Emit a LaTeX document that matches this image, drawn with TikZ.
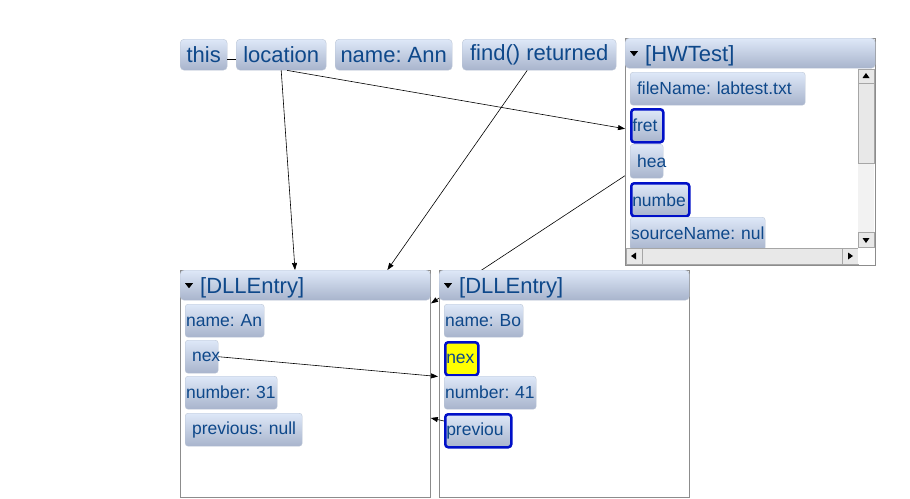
\documentclass[tikz,border=0pt]{standalone}
\usepackage{fontspec}
\setmainfont{Liberation Sans}
\usetikzlibrary{arrows.meta,positioning,calc}
\pgfdeclarelayer{behind}
\pgfsetlayers{behind,main}
\definecolor{txtblue}{RGB}{14,72,138}
\definecolor{btntop}{RGB}{222,232,248}
\definecolor{btnbot}{RGB}{168,180,204}
\definecolor{btnedge}{RGB}{188,198,214}
\definecolor{panelgray}{RGB}{140,140,140}
\definecolor{selblue}{RGB}{0,16,200}
\definecolor{sbtrack}{RGB}{242,242,242}
\definecolor{sbface}{RGB}{232,232,232}
\newcommand\bigfont{\fontsize{22}{26}\selectfont}
\newcommand\fieldfont{\fontsize{17.5}{21}\selectfont}
\frenchspacing

\begin{document}
\begin{tikzpicture}[x=1pt, y=-1pt,
  var/.style={rounded corners=4pt, top color=btntop, bottom color=btnbot, draw=btnedge,
    anchor=north west, minimum height=31pt, inner sep=0pt, font=\bigfont, text=txtblue},
  field/.style={rounded corners=3pt, top color=btntop, bottom color=btnbot, draw=btnedge,
    anchor=north west, minimum height=33pt, inner xsep=1pt, inner ysep=0pt,
    text width=#1, align=left, font=\fieldfont, text=txtblue},
  field/.default=60pt,
  sel/.style={draw=selblue, line width=2.5pt},
  hot/.style={sel, top color=yellow, bottom color=yellow},
  panel/.style={draw=panelgray, fill=white, line width=0.8pt, anchor=north west,
    inner sep=0pt, minimum width=250pt, minimum height=227pt},
  hdr/.style={rounded corners=4pt, top color=btntop, bottom color=btnbot, draw=btnedge,
    anchor=north west, minimum height=30pt, inner xsep=1pt, inner ysep=0pt,
    text height=18pt, text depth=2pt,
    text width=248pt, align=left, font=\bigfont, text=txtblue},
  ref/.style={-{Triangle[length=7pt,width=5pt]}, line width=0.6pt},
  sbbtn/.style={draw=black!35, fill=sbface, line width=0.6pt}
]
  \useasboundingbox (0,0) rectangle (910,498);

  % The variables
  \node[var, minimum width=47pt] (this) at (180,39) {this};
  \node[var, minimum width=90pt] (location) at (236,39) {location};
  \node[var, minimum width=117pt] (name) at (335,39) {name: Ann};
  \node[var, minimum width=154pt] (found) at (462,39) {find() returned};

  % The HWTest object
  \node[panel] (bodyH) at (625,38) {};
  \node[hdr] (hdrH) at (625,38) {\hspace*{19pt}[HWTest]};
  \fill ($(hdrH.west)+(5,-2)$) -- ++(8,0) -- ++(-4,5) -- cycle;
  \node[field=173pt] (fileName) at (630,72) {\mbox{ fileName: labtest.txt}};
  \node[field=30pt, sel] (fret) at (630,108) {\mbox{fret}};
  \node[field=31pt, minimum height=34pt] (hea) at (630,144) {\mbox{ hea}};
  \node[field=56pt, sel] (numbe) at (630,182) {\mbox{numbe}};
  \node[field=133pt] (source) at (630,217) {\mbox{sourceName: nul}};

  % scroll bars
  \fill[sbtrack] (858,69) rectangle (874,248);
  \fill[sbtrack] (626,248) rectangle (858,264);
  \draw[sbbtn] (858,69) rectangle (874,83);
  \draw[sbbtn] (858,83) rectangle (874,163);
  \draw[sbbtn] (858,232) rectangle (874,247);
  \draw[sbbtn] (626,248) rectangle (642,264);
  \draw[sbbtn] (642,248) rectangle (842,264);
  \draw[sbbtn] (842,248) rectangle (858,264);
  \fill[white] (858,248) rectangle (874,264);
  \fill (866,73) -- (869.5,78) -- (862.5,78) -- cycle;
  \fill (866,243) -- (869.5,238) -- (862.5,238) -- cycle;
  \fill (631,256) -- (636,252.5) -- (636,259.5) -- cycle;
  \fill (853,256) -- (848,252.5) -- (848,259.5) -- cycle;

  % The first DLLEntry
  \node[panel] (bodyA) at (180,270) {};
  \node[hdr] (hdrA) at (180,270) {\hspace*{19pt}[DLLEntry]};
  \fill ($(hdrA.west)+(5,-2)$) -- ++(8,0) -- ++(-4,5) -- cycle;
  \node[field=77pt] (nameA) at (185,304) {\mbox{name: An}};
  \node[field=31pt] (nextA) at (185,340) {\mbox{ nex}};
  \node[field=90pt] (numA) at (185,376) {\mbox{number: 31}};
  \node[field=115pt] (prevA) at (185,413) {\mbox{ previous: null}};

  % The second DLLEntry
  \node[panel] (bodyB) at (439,270) {};
  \node[hdr] (hdrB) at (439,270) {\hspace*{19pt}[DLLEntry]};
  \fill ($(hdrB.west)+(5,-2)$) -- ++(8,0) -- ++(-4,5) -- cycle;
  \node[field=77pt] (nameB) at (444,304) {\mbox{name: Bo}};
  \node[field=31pt, hot] (nextB) at (444,341) {\mbox{nex}};
  \node[field=90pt] (numB) at (444,376) {\mbox{number: 41}};
  \node[field=64pt, sel] (prevB) at (444,413) {\mbox{previou}};

  % head runs behind the second entry
  \begin{pgfonlayer}{behind}
    \draw[ref] ($(hea.south west)+(0,-6)$) -- ($(hdrB.south west)+(-8,3)$);
  \end{pgfonlayer}

  % References
  \draw ($(this.east)+(0,4)$) -- ($(location.west)+(0,4)$);
  \draw[ref] (location.south) -- ($(hdrA.north west)+(115,0)$);
  \draw[ref] ($(location.south)+(6,0)$) -- ($(fret.west)+(-5,3)$);
  \draw[ref] ($(found.south)+(-12,0)$) -- ($(hdrA.north east)+(-43,0)$);
  \draw[ref] (nextA.east) -- ($(nextB.south west)+(-6,0)$);
  \draw[ref] ($(prevB.north west)+(0,8)$) -- ($(bodyA.north east)+(0,148)$);
\end{tikzpicture}
\end{document}
